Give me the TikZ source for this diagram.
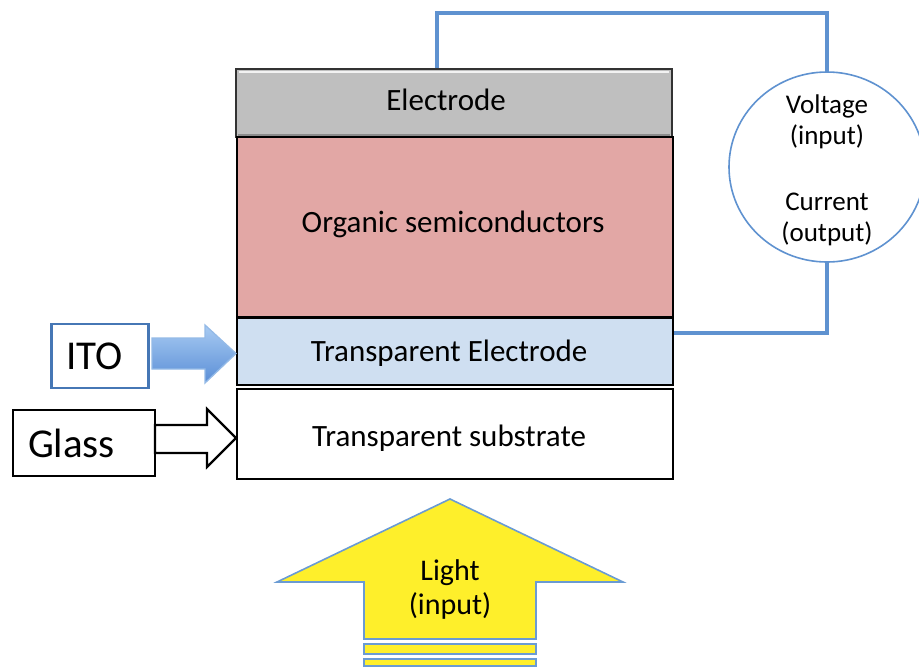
\documentclass[tikz,border=0pt]{standalone}
\usepackage{fontspec}
\setmainfont{Carlito}
\usetikzlibrary{shapes.geometric}
\definecolor{wireblue}{HTML}{5F92D0}
\definecolor{circblue}{HTML}{5F92D0}
\definecolor{itoblue}{HTML}{4677B5}
\definecolor{elgray}{HTML}{BFBFBF}
\definecolor{orgred}{HTML}{E2A7A5}
\definecolor{teblue}{HTML}{CFDFF1}
\definecolor{lightyellow}{HTML}{FEEF2B}
\definecolor{lightedge}{HTML}{6A9BD3}
\definecolor{arrtop}{HTML}{A8CBF3}
\definecolor{arrbot}{HTML}{5A8ED6}
\newcommand{\shiftt}[3]{\raisebox{#2}[\height][\depth]{\makebox[0pt][c]{\kern#1#3}}}
\begin{document}
\begin{tikzpicture}[x=1pt,y=-1pt,
  layer/.style={draw=black, line width=2.2pt, minimum width=436pt, anchor=north west,
    inner sep=0pt, font=\fontsize{31}{34}\selectfont},
  wire/.style={draw=wireblue, line width=3.5pt},
  sidebox/.style={line width=2.2pt, inner sep=0pt, inner xsep=15pt, align=left,
    font=\fontsize{41}{44}\selectfont},
  blockarrow/.style={line width=1.3pt, line join=miter}
]
\useasboundingbox (0,0) rectangle (919,670);

% layers
\node[layer, draw=black!80, fill=elgray, minimum height=68pt] (el) at (235,68) {\shiftt{-16pt}{3pt}{Electrode}};
\node[layer, fill=orgred, minimum height=180pt] (org) at (236,136) {\shiftt{-4pt}{3pt}{Organic semiconductors}};
\node[layer, fill=teblue, minimum height=67pt] (te) at (236,317) {\shiftt{-12pt}{-2pt}{Transparent Electrode}};
\node[layer, fill=white, minimum height=90pt] (sub) at (236,388) {\shiftt{-12pt}{-4pt}{Transparent substrate}};
% bevel highlight on electrode
\draw[white!80!elgray, line width=2pt] ([shift={(4,4)}]el.north west) -- ([shift={(-4,4)}]el.north east);
\draw[black!45, line width=1.5pt] ([shift={(3,-3)}]el.south west) -- ([shift={(-3,-3)}]el.south east);

% voltage / current meter
\begin{scope}
\clip (0,0) rectangle (919,670);
\node[ellipse, draw=circblue, line width=1.6pt, fill=white, minimum width=196pt,
  minimum height=190pt, inner sep=0pt] (circ) at (827,167) {};
\end{scope}
\node[align=center, font=\fontsize{27}{31}\selectfont] (circtext) at (827,170)
  {Voltage\\(input)\\[35pt]Current\\(output)};

% wires
\coordinate (wt) at (437,13);
\coordinate (wb) at (827,333);
\draw[wire, line join=miter] (el.north -| wt) -- (wt) -| (circ.north);
\draw[wire, line join=miter] (circ.south) -- (wb) -- (te.east |- wb);

% ITO label and arrow
\node[sidebox, draw=itoblue, minimum width=97pt, minimum height=64pt, text width=67pt] (ito) at (100,356) {ITO};
\shadedraw[blockarrow, draw=arrtop!80!itoblue, top color=arrtop, bottom color=arrbot]
  (152,338) -- (205,338) -- (205,325) -- (te.west |- 0,353.5) -- (205,383) -- (205,369) -- (152,369) -- cycle;

% Glass label and arrow
\node[sidebox, draw=black, minimum width=142pt, minimum height=66pt, text width=112pt] (glass) at (84,443) {Glass};
\draw[blockarrow, line width=2.2pt, draw=black, fill=white]
  (155,425) -- (207,425) -- (207,409) -- (sub.west |- 0,438) -- (207,467) -- (207,453) -- (155,453) -- cycle;

% light arrow
\draw[line width=1.6pt, draw=lightedge, fill=lightyellow, line join=miter]
  (450,499) -- (623,582) -- (536,582) -- (536,639) -- (364,639) -- (364,582) -- (277,582) -- cycle;
\draw[line width=1.6pt, draw=lightedge, fill=lightyellow] (364,644) rectangle (536,654);
\draw[line width=1.6pt, draw=lightedge, fill=lightyellow] (364,659) rectangle (536,666);
\node[align=center, font=\fontsize{30}{34}\selectfont] (light) at (450,589) {Light\\(input)};
\end{tikzpicture}
\end{document}
